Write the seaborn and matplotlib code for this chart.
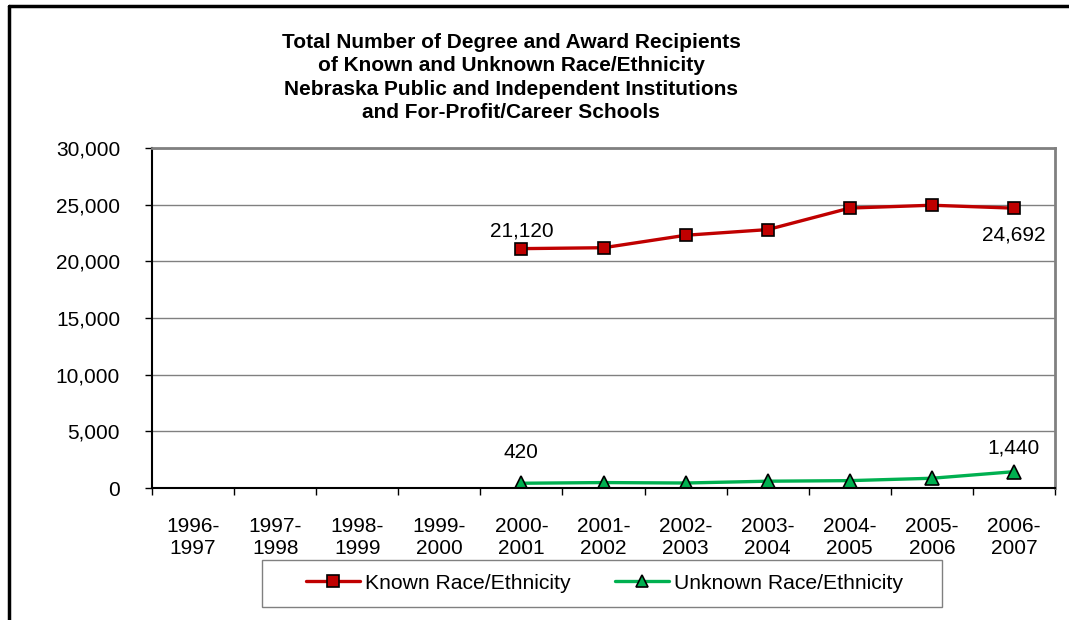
import numpy as np
import pandas as pd
import seaborn as sns
import matplotlib.pyplot as plt
from matplotlib.lines import Line2D
from matplotlib.patches import Rectangle
from matplotlib.ticker import FuncFormatter, MultipleLocator

years = ["1996-\n1997", "1997-\n1998", "1998-\n1999", "1999-\n2000", "2000-\n2001",
         "2001-\n2002", "2002-\n2003", "2003-\n2004", "2004-\n2005", "2005-\n2006",
         "2006-\n2007"]
# data only exists from 2000-2001 onward
first_year = 4
known = [21120, 21200, 22300, 22800, 24700, 24950, 24692]
unknown = [420, 480, 440, 600, 650, 860, 1440]

red = "#C00000"
green = "#00B050"
grey = "#808080"
fs = 15

sns.set_theme(style="white")
plt.rcParams["font.family"] = ["Liberation Sans", "DejaVu Sans"]
plt.rcParams["text.color"] = "black"
plt.rcParams["xtick.color"] = "black"
plt.rcParams["ytick.color"] = "black"

pos = np.arange(first_year, len(years))
df = pd.DataFrame({"pos": pos, "known": known, "unknown": unknown})

fig = plt.figure(figsize=(10.69, 6.20), dpi=100)
ax = fig.add_axes([0.1422, 0.2129, 0.8447, 0.5484])

sns.lineplot(data=df, x="pos", y="known", ax=ax, color=red, lw=2.4,
             marker="s", markersize=8.5, markerfacecolor=red,
             markeredgecolor="black", markeredgewidth=1.2)
sns.lineplot(data=df, x="pos", y="unknown", ax=ax, color=green, lw=2.4,
             marker="^", markersize=10.5, markerfacecolor=green,
             markeredgecolor="black", markeredgewidth=1.2)

ax.set_xlim(-0.5, len(years) - 0.5)
ax.set_ylim(0, 30000)
ax.set_xticks(np.arange(len(years)))
ax.set_xticklabels(years, fontsize=fs, linespacing=1.2)
ax.xaxis.set_minor_locator(MultipleLocator(1, offset=0.5))
ax.tick_params(axis="x", which="major", length=0, pad=21)
ax.tick_params(axis="x", which="minor", length=5, width=1, color="black",
               direction="out", bottom=True)
ax.yaxis.set_major_locator(MultipleLocator(5000))
ax.yaxis.set_major_formatter(FuncFormatter(lambda v, p: f"{v:,.0f}"))
ax.tick_params(axis="y", length=5, width=1, color="black", direction="out",
               left=True, pad=18, labelsize=fs)
ax.set_xlabel("")
ax.set_ylabel("")
ax.grid(axis="y", color=grey, lw=1)
ax.set_axisbelow(True)

for s in ["left", "bottom"]:
    ax.spines[s].set_color("black")
    ax.spines[s].set_linewidth(1.5)
for s in ["top", "right"]:
    ax.spines[s].set_color(grey)
    ax.spines[s].set_linewidth(2)

# data labels on the first and last points
ax.annotate(f"{known[0]:,}", (pos[0], known[0]), xytext=(0, 18),
            textcoords="offset pixels", ha="center", va="center", fontsize=fs)
ax.annotate(f"{known[-1]:,}", (pos[-1], known[-1]), xytext=(0, -27),
            textcoords="offset pixels", ha="center", va="center", fontsize=fs)
ax.annotate(f"{unknown[0]:,}", (pos[0], unknown[0]), xytext=(0, 31),
            textcoords="offset pixels", ha="center", va="center", fontsize=fs)
ax.annotate(f"{unknown[-1]:,}", (pos[-1], unknown[-1]), xytext=(0, 24),
            textcoords="offset pixels", ha="center", va="center", fontsize=fs)

fig.text(0.478, 0.875, "Total Number of Degree and Award Recipients\n"
         "of Known and Unknown Race/Ethnicity\n"
         "Nebraska Public and Independent Institutions\n"
         "and For-Profit/Career Schools",
         ha="center", va="center", fontsize=fs, fontweight="bold", linespacing=1.3)

handles = [
    Line2D([], [], color=red, lw=2.4, marker="s", markersize=8,
           markerfacecolor=red, markeredgecolor="black", markeredgewidth=1.2),
    Line2D([], [], color=green, lw=2.4, marker="^", markersize=8.5,
           markerfacecolor=green, markeredgecolor="black", markeredgewidth=1.2),
]
leg = fig.legend(handles, ["Known Race/Ethnicity", "Unknown Race/Ethnicity"],
                 loc="center", bbox_to_anchor=(604.4 / 1069, 1 - 583.3 / 620), ncol=2,
                 fontsize=15.2, frameon=False, handlelength=2.56, handletextpad=0.24,
                 columnspacing=2.1, borderpad=0)

# legend box
fig.add_artist(Rectangle((262 / 1069, 1 - 607 / 620), 680 / 1069, 47 / 620,
                         transform=fig.transFigure, facecolor="none",
                         edgecolor=grey, lw=1))

# outer chart border (top and left visible)
fig.add_artist(Line2D([9 / 1069, 1], [1 - 6 / 620, 1 - 6 / 620],
                      transform=fig.transFigure, color="black", lw=2.5))
fig.add_artist(Line2D([9 / 1069, 9 / 1069], [0, 1 - 6 / 620],
                      transform=fig.transFigure, color="black", lw=2.5))

fig.savefig("out.png", dpi=100)
